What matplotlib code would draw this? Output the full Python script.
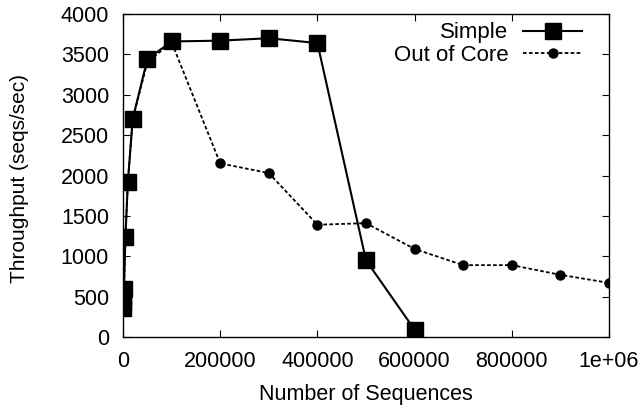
import matplotlib
matplotlib.use("Agg")
import matplotlib.pyplot as plt

plt.rcParams['font.family'] = ['Liberation Sans', 'DejaVu Sans']

simple_x = [100, 500, 1000, 2000, 5000, 10000, 20000, 50000, 100000,
            200000, 300000, 400000, 500000, 600000]
simple_y = [360, 430, 500, 600, 1240, 1920, 2700, 3440, 3660,
            3670, 3700, 3640, 950, 90]

ooc_x = [100, 500, 1000, 2000, 5000, 10000, 20000, 50000, 100000,
         200000, 300000, 400000, 500000, 600000, 700000, 800000, 900000, 1000000]
ooc_y = [360, 430, 500, 600, 1240, 1920, 2700, 3400, 3650,
         2150, 2030, 1390, 1410, 1090, 890, 890, 770, 670]

x_ticks = [0, 200000, 400000, 600000, 800000, 1000000]
x_labels = ['0', '200000', '400000', '600000', '800000', '1e+06']
y_ticks = list(range(0, 4001, 500))

fig = plt.figure(figsize=(6.44, 4.09), dpi=100)
ax = fig.add_axes([123 / 644, 1 - 337 / 409, (609 - 123) / 644, (337 - 14) / 409])

ax.plot(ooc_x, ooc_y, color='black', linestyle=(0, (2, 1.3)), linewidth=1.3,
        marker='o', markersize=6.5, label='Out of Core', zorder=2)
ax.plot(simple_x, simple_y, color='black', linestyle='-', linewidth=1.5,
        marker='s', markersize=11, label='Simple', zorder=3)

ax.set_xlim(0, 1000000)
ax.set_ylim(0, 4000)
ax.set_xticks(x_ticks)
ax.set_xticklabels(x_labels)
ax.set_yticks(y_ticks)
ax.tick_params(direction='in', top=True, right=True, labelsize=15.5, length=5,
               width=0.8, pad=10)
for s in ax.spines.values():
    s.set_linewidth(1.0)

ax.set_xlabel('Number of Sequences', fontsize=15.5)
ax.xaxis.set_label_coords(0.499, -0.145)
ax.set_ylabel('Throughput (seqs/sec)', fontsize=15, va='center')
ax.yaxis.set_label_coords(-0.212, 0.491)

handles, labels = ax.get_legend_handles_labels()
leg = ax.legend(handles[::-1], labels[::-1], loc='upper right',
                bbox_to_anchor=(0.9446, 0.974), markerfirst=False,
                frameon=False, fontsize=16, handlelength=2.65, borderaxespad=0,
                borderpad=0, labelspacing=0.08, handletextpad=0.67)

fig.savefig('out.png', dpi=100)
